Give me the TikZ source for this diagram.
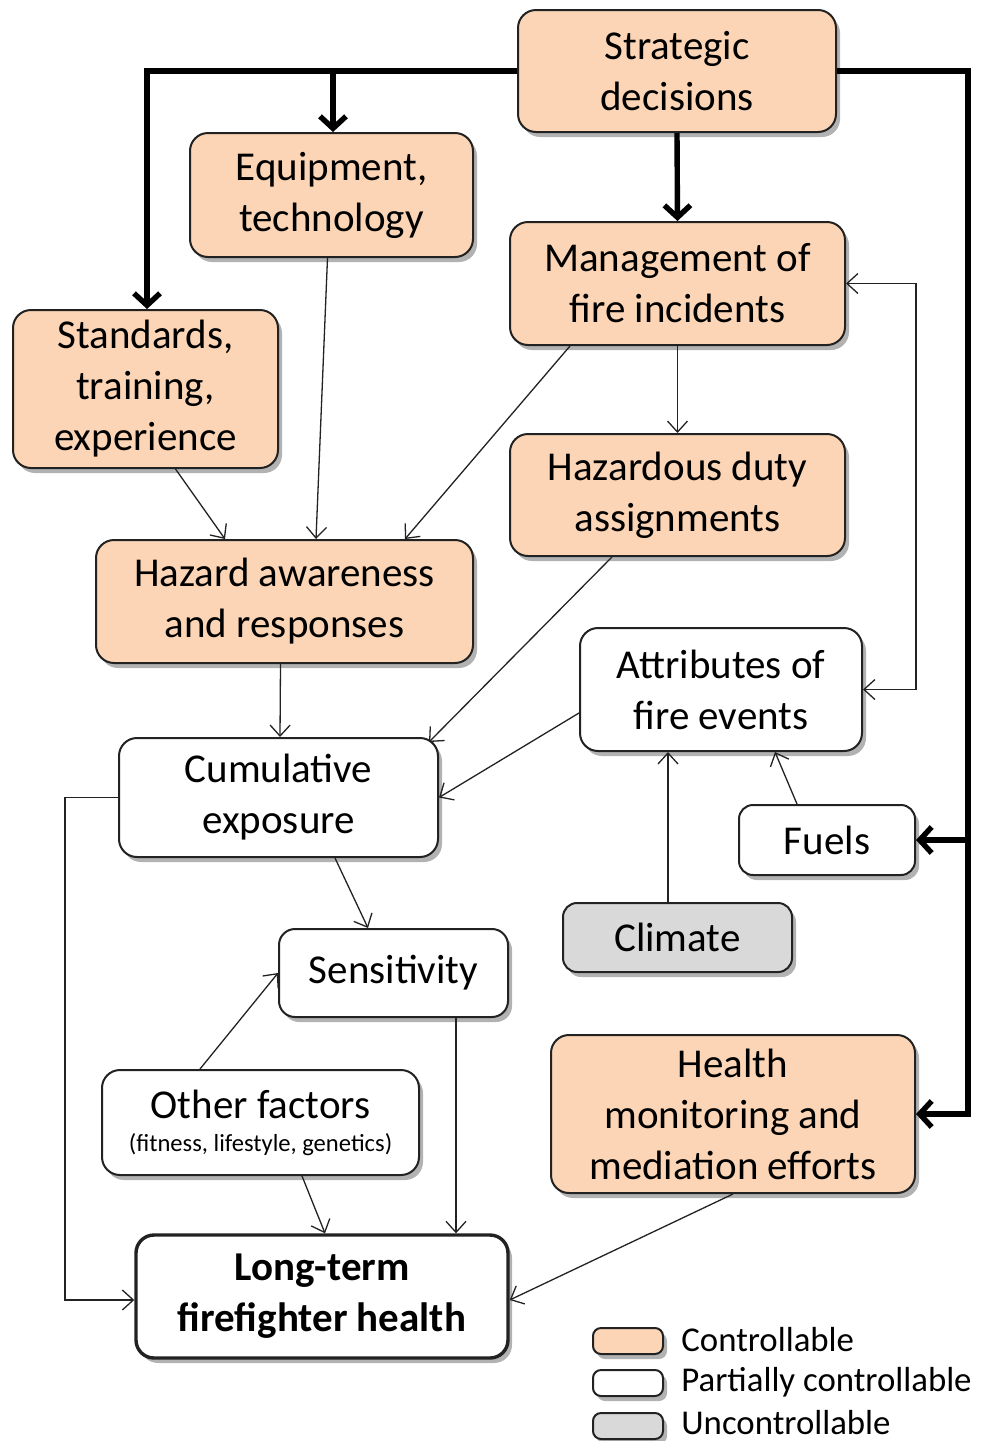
\documentclass[tikz,border=0pt]{standalone}
\usepackage{fontspec}
\setmainfont{Carlito}
\usetikzlibrary{arrows.meta,calc,shadows}
\definecolor{ctrl}{HTML}{FBD5B5}
\definecolor{unctrl}{HTML}{D9D9D9}
\definecolor{edge}{HTML}{222222}
\tikzset{
  box/.style={draw=edge, line width=1pt, rounded corners=9pt, align=center,
    inner sep=0pt, text=black, font=\fontsize{20.5pt}{25.5pt}\selectfont,
    drop shadow={shadow xshift=2pt, shadow yshift=-2.5pt, opacity=0.3, fill=black}},
  controllable/.style={box, fill=ctrl},
  partial/.style={box, fill=white},
  uncontrollable/.style={box, fill=unctrl},
  keybox/.style={minimum width=35pt, minimum height=13pt, rounded corners=4pt},
  keytext/.style={anchor=west, inner sep=0pt, text=black, font=\fontsize{17.4pt}{20pt}\selectfont},
  link/.style={draw=edge, line width=0.65pt, -{Straight Barb[length=5.5pt,width=10pt]}},
  twoway/.style={draw=edge, line width=0.65pt, {Straight Barb[length=5.5pt,width=10pt]}-{Straight Barb[length=5.5pt,width=10pt]}},
  mainlink/.style={draw=black, line width=2.7pt, line join=miter, -{Straight Barb[length=6pt,width=13pt]}},
}
\begin{document}
\begin{tikzpicture}[x=0.5pt, y=-0.5pt]
\useasboundingbox (0,0) rectangle (982,1441);

% boxes
\node[controllable, minimum width=159pt, minimum height=61pt] (strat) at (677,71) {Strategic\\decisions};
\node[controllable, minimum width=141.5pt, minimum height=62pt] (equip) at (331.5,195) {Equipment,\\technology};
\node[controllable, minimum width=167.5pt, minimum height=61.5pt] (mgmt) at (677.5,283.5) {Management of\\fire incidents};
\node[controllable, minimum width=132.5pt, minimum height=79pt] (stand) at (145.5,389) {Standards,\\training,\\experience};
\node[controllable, minimum width=167.5pt, minimum height=61pt] (hazd) at (677.5,495) {Hazardous duty\\assignments};
\node[controllable, minimum width=188.5pt, minimum height=61.5pt] (aware) at (284.5,601.5) {Hazard awareness\\and responses};
\node[partial, minimum width=141pt, minimum height=61.5pt] (attr) at (721,689.5) {Attributes of\\fire events};
\node[partial, minimum width=159.5pt, minimum height=59.5pt] (cumul) at (278.5,797.5) {Cumulative\\exposure};
\node[partial, minimum width=88pt, minimum height=35pt, rounded corners=7pt] (fuels) at (827,840) {Fuels};
\node[uncontrollable, minimum width=114.5pt, minimum height=34.5pt, rounded corners=7pt] (climate) at (677.5,937.5) {Climate};
\node[partial, minimum width=114.5pt, minimum height=44pt, rounded corners=8pt] (sens) at (393.5,973) {Sensitivity};
\node[partial, minimum width=158.5pt, minimum height=52.5pt] (other) at (260.5,1122.5)
  {Other factors\\[-9pt]{\fontsize{12.3pt}{14pt}\selectfont (fitness, lifestyle, genetics)}};
\node[controllable, minimum width=182pt, minimum height=79pt] (health) at (733,1114) {Health\\monitoring and\\mediation efforts};
\node[partial, line width=1.7pt, minimum width=186pt, minimum height=61.5pt, font=\fontsize{20.5pt}{25.5pt}\selectfont\bfseries] (lt) at (322,1296.5) {Long-term\\firefighter health};

% strategic decisions feed the controllable factors
\coordinate (rbus) at (968,71);
\draw[mainlink] (strat.west) -| ($(stand.north)+(1.5,0)$);
\draw[mainlink] ($(equip.north |- strat.west)+(1.5,0)$) -- ($(equip.north)+(1.5,0)$);
\draw[mainlink] (strat.south) -- (mgmt.north);
\draw[mainlink] (strat.east) -- (rbus) |- (health.east);
\draw[mainlink] (fuels.east -| rbus) -- (fuels.east);

% influences
\draw[link] ($(equip.south)+(-4,0)$) -- ($(aware.north)+(31.5,0)$);
\draw[link] ($(stand.south)+(30,0)$) -- ($(aware.north)+(-59.5,0)$);
\draw[link] ($(mgmt.south)+(-107.5,0)$) -- ($(aware.north)+(120.5,0)$);
\draw[link] (mgmt.south) -- (hazd.north);
\draw[twoway] (mgmt.east) -- ++(70,0) |- (attr.east);
\draw[link] ($(aware.south)+(-4,0)$) -- ($(cumul.north)+(1.5,0)$);
\draw[link] ($(hazd.south)+(-65.5,0)$) -- ($(cumul.north east)+(-10,5)$);
\draw[link] ($(attr.west)+(0,23.5)$) -- (cumul.east);
\draw[link] ($(climate.north)+(-9.5,0)$) -- ($(attr.south)+(-53,0)$);
\draw[link] ($(fuels.north)+(-30,0)$) -- ($(attr.south)+(54,0)$);
\draw[link] ($(cumul.south)+(56.5,0)$) -- ($(sens.north)+(-25.5,0)$);
\draw[link] (cumul.west) -- ++(-53,0) |- ($(lt.west)+(0,3.5)$);
\draw[link] ($(other.north)+(-60.5,0)$) -- (sens.west);
\draw[link] ($(other.south)+(41.5,0)$) -- ($(lt.north)+(3,0)$);
\draw[link] ($(sens.south)+(62.5,0)$) -- ($(lt.north)+(134,0)$);
\draw[link] (health.south) -- ($(lt.east)+(0,3.5)$);

% key
\node[controllable, keybox] (kc) at (628,1341) {};
\node[partial, keybox] (kp) at (628,1383) {};
\node[uncontrollable, keybox] (ku) at (628,1426) {};
\node[keytext] (kct) at (681,1340) {Controllable};
\node[keytext] (kpt) at (681,1382) {Partially controllable};
\node[keytext] (kut) at (681,1423) {Uncontrollable};
\end{tikzpicture}
\end{document}
